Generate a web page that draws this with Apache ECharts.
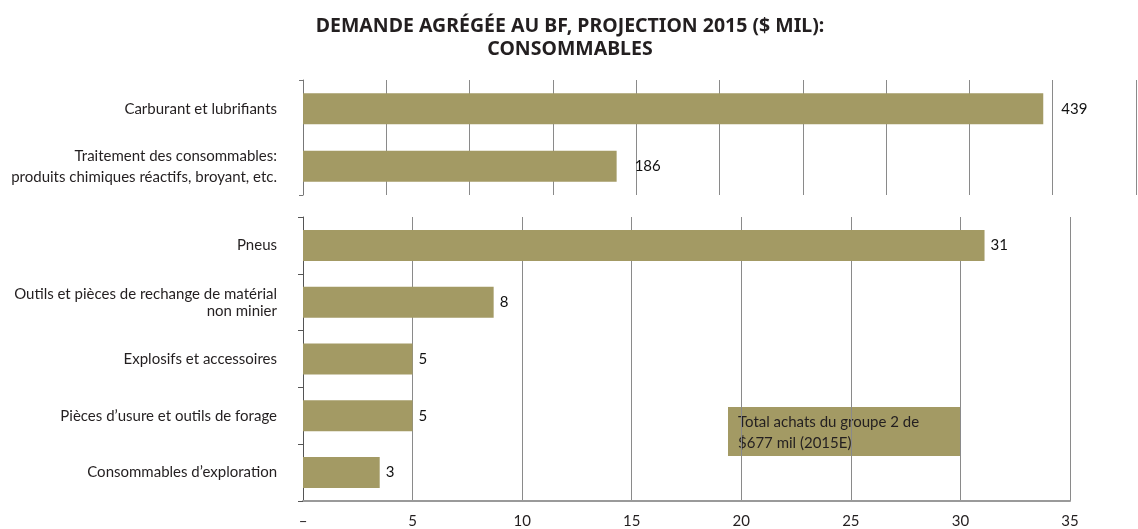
<!DOCTYPE html>
<html lang="fr">
<head>
    <meta charset="UTF-8">
    <title>Consommables</title>
    <script src="https://cdn.jsdelivr.net/npm/echarts@6/dist/echarts.min.js"></script>
</head>
<body style="margin: 0; background: #fff">
<div id="container" style="width:1138px;height:529px;"></div>
<script>
    // top panel (large values, own scale)
    var topCats = ["Carburant et lubrifiants",
        "Traitement des consommables:\nproduits chimiques réactifs, broyant, etc."];
    var topVals = [439, 186];

    // bottom panel
    var botCats = ["Pneus",
        "Outils et pièces de rechange de matérial\nnon minier",
        "Explosifs et accessoires",
        "Pièces d’usure et outils de forage",
        "Consommables d’exploration"];
    var botVals = [31.1, 8.7, 5.0, 5.0, 3.5];
    var botLabels = ["31", "8", "5", "5", "3"];

    var titleText = "DEMANDE AGRÉGÉE AU BF, PROJECTION 2015 ($ MIL):\nCONSOMMABLES";
    var noteText = "Total achats du groupe 2 de\n$677 mil (2015E)";

    var barColor = "#a39a64";
    var gridColor = "#8a8a8a";
    var txt = "#231f20";
    var font = "Lato";

    var myChart = echarts.init(document.getElementById("container"), null, { renderer: "canvas" });

    var option = {
        animation: false,
        title: {
            text: titleText,
            left: 565,
            textAlign: "center",
            top: 10,
            textStyle: {
                fontFamily: "'Noto Sans'",
                fontWeight: "bold",
                fontSize: 19.5,
                lineHeight: 23,
                color: txt
            }
        },
        grid: [
            { left: 303, top: 80, width: 833, height: 115 },
            { left: 303, top: 217, width: 767, height: 286 }
        ],
        xAxis: [
            {
                gridIndex: 0, type: "value", min: 0, max: 494, interval: 49.4,
                axisLine: { show: false }, axisTick: { show: false }, axisLabel: { show: false },
                splitLine: { lineStyle: { color: gridColor, width: 1 } }
            },
            {
                gridIndex: 1, type: "value", min: 0, max: 35, interval: 5,
                axisLine: { show: true, lineStyle: { color: "#9a9a9a", width: 2 } },
                axisTick: { show: false },
                axisLabel: {
                    margin: 13, fontFamily: font, fontSize: 15, color: txt,
                    formatter: function (v) { return v === 0 ? "–" : v; }
                },
                splitLine: { lineStyle: { color: gridColor, width: 1 } }
            }
        ],
        yAxis: [
            {
                gridIndex: 0, type: "category", inverse: true, data: topCats,
                axisLine: { show: true, lineStyle: { color: "#777", width: 1 } },
                axisTick: { show: true, interval: 1, length: 4, lineStyle: { color: "#777" } },
                axisLabel: { margin: 26, fontFamily: font, fontSize: 15, color: txt, lineHeight: 21 }
            },
            {
                gridIndex: 1, type: "category", inverse: true, data: botCats,
                axisLine: { show: true, lineStyle: { color: "#555", width: 1 } },
                axisTick: { show: true, length: 5, lineStyle: { color: "#555" } },
                axisLabel: { margin: 26, fontFamily: font, fontSize: 15, color: txt, lineHeight: 17 }
            }
        ],
        series: [
            {
                type: "bar", xAxisIndex: 0, yAxisIndex: 0, data: topVals,
                barWidth: 31,
                itemStyle: { color: barColor },
                label: {
                    show: true, position: "right", distance: 18,
                    fontFamily: font, fontSize: 15, color: "#111"
                }
            },
            {
                type: "bar", xAxisIndex: 1, yAxisIndex: 1, data: botVals,
                barWidth: 31,
                itemStyle: { color: barColor },
                label: {
                    show: true, position: "right", distance: 6,
                    fontFamily: font, fontSize: 15, color: "#111",
                    formatter: function (p) { return botLabels[p.dataIndex]; }
                }
            }
        ],
        graphic: [
            {
                type: "group", left: 728, top: 407,
                children: [
                    { type: "rect", shape: { x: 0, y: 0, width: 232, height: 49 }, style: { fill: barColor } },
                    {
                        type: "text", x: 10, y: 5,
                        style: { text: noteText, fontFamily: font, fontSize: 15, lineHeight: 21, fill: txt }
                    }
                ]
            }
        ]
    };

    myChart.setOption(option);
</script>
</body>
</html>
